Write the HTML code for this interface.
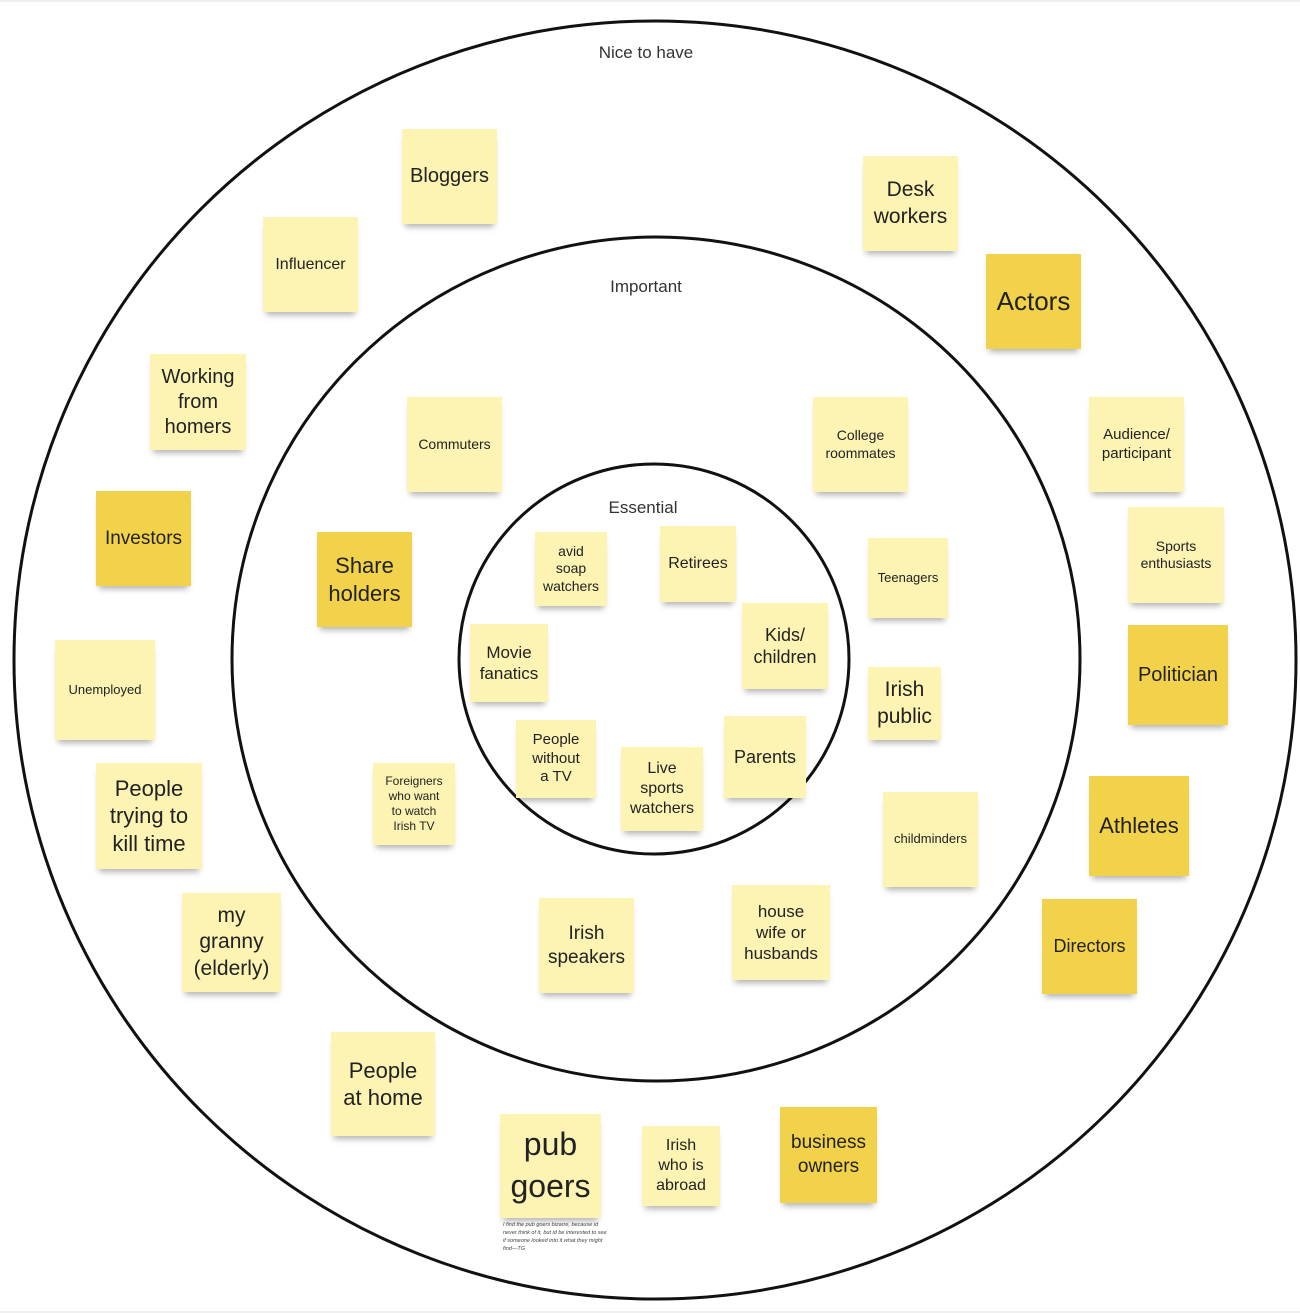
<!DOCTYPE html>
<html><head><meta charset="utf-8"><style>
body{margin:0;width:1300px;height:1314px;background:#fff;position:relative;overflow:hidden;font-family:"Liberation Sans",sans-serif}
.n{position:absolute;background:#fdf4b4;display:flex;align-items:center;justify-content:center;text-align:center;color:#222;box-shadow:0 6px 6px -3px rgba(0,0,0,.3);line-height:1.25}
.d{background:#f2d24a}
.l{position:absolute;font-size:17px;color:#333;transform:translateX(-50%)}
</style></head><body>
<svg width="1300" height="1314" style="position:absolute;left:0;top:0">
<line x1="0" y1="1" x2="1300" y2="1" stroke="#ddd"/>
<line x1="0" y1="1312" x2="1300" y2="1312" stroke="#ddd"/>
<ellipse cx="655" cy="660" rx="641" ry="639" fill="none" stroke="#111" stroke-width="3"/>
<ellipse cx="656" cy="659" rx="424" ry="422" fill="none" stroke="#111" stroke-width="3"/>
<ellipse cx="654" cy="659" rx="195" ry="195" fill="none" stroke="#111" stroke-width="3"/>
</svg>
<div class="l" style="left:646px;top:43px">Nice to have</div>
<div class="l" style="left:646px;top:277px">Important</div>
<div class="l" style="left:643px;top:498px">Essential</div>

<div class="n" style="left:402px;top:129px;width:95px;height:95px;font-size:20px">Bloggers</div>
<div class="n" style="left:863px;top:156px;width:95px;height:95px;font-size:21px">Desk<br>workers</div>
<div class="n" style="left:263px;top:217px;width:95px;height:95px;font-size:16px">Influencer</div>
<div class="n d" style="left:986px;top:254px;width:95px;height:95px;font-size:26px">Actors</div>
<div class="n" style="left:150px;top:354px;width:96px;height:96px;font-size:20px">Working<br>from<br>homers</div>
<div class="n" style="left:407px;top:397px;width:95px;height:95px;font-size:14px">Commuters</div>
<div class="n" style="left:813px;top:397px;width:95px;height:95px;font-size:14px">College<br>roommates</div>
<div class="n" style="left:1089px;top:397px;width:95px;height:95px;font-size:15px">Audience/<br>participant</div>
<div class="n d" style="left:96px;top:491px;width:95px;height:95px;font-size:19px">Investors</div>
<div class="n" style="left:1128px;top:507px;width:96px;height:96px;font-size:14px">Sports<br>enthusiasts</div>
<div class="n d" style="left:317px;top:532px;width:95px;height:95px;font-size:22px">Share<br>holders</div>
<div class="n" style="left:535px;top:532px;width:72px;height:74px;font-size:14px">avid<br>soap<br>watchers</div>
<div class="n" style="left:660px;top:526px;width:76px;height:76px;font-size:16px">Retirees</div>
<div class="n" style="left:868px;top:538px;width:80px;height:80px;font-size:13px">Teenagers</div>
<div class="n" style="left:742px;top:603px;width:86px;height:86px;font-size:18px">Kids/<br>children</div>
<div class="n d" style="left:1128px;top:625px;width:100px;height:100px;font-size:20px">Politician</div>
<div class="n" style="left:470px;top:624px;width:78px;height:78px;font-size:17px">Movie<br>fanatics</div>
<div class="n" style="left:55px;top:640px;width:100px;height:100px;font-size:13px">Unemployed</div>
<div class="n" style="left:868px;top:667px;width:73px;height:73px;font-size:21px">Irish<br>public</div>
<div class="n" style="left:516px;top:720px;width:80px;height:78px;font-size:15px">People<br>without<br>a TV</div>
<div class="n" style="left:724px;top:716px;width:82px;height:82px;font-size:18px">Parents</div>
<div class="n" style="left:621px;top:747px;width:82px;height:84px;font-size:16px">Live<br>sports<br>watchers</div>
<div class="n" style="left:96px;top:763px;width:106px;height:106px;font-size:22px">People<br>trying to<br>kill time</div>
<div class="n" style="left:373px;top:763px;width:82px;height:82px;font-size:12px">Foreigners<br>who want<br>to watch<br>Irish TV</div>
<div class="n d" style="left:1089px;top:776px;width:100px;height:100px;font-size:22px">Athletes</div>
<div class="n" style="left:883px;top:792px;width:95px;height:95px;font-size:13px">childminders</div>
<div class="n" style="left:182px;top:893px;width:99px;height:99px;font-size:21px">my<br>granny<br>(elderly)</div>
<div class="n" style="left:539px;top:898px;width:95px;height:95px;font-size:19px">Irish<br>speakers</div>
<div class="n" style="left:732px;top:885px;width:98px;height:95px;font-size:17px">house<br>wife or<br>husbands</div>
<div class="n d" style="left:1042px;top:899px;width:95px;height:95px;font-size:18px">Directors</div>
<div class="n" style="left:331px;top:1032px;width:104px;height:104px;font-size:22px">People<br>at home</div>
<div class="n" style="left:500px;top:1114px;width:101px;height:104px;font-size:32px;line-height:1.3">pub<br>goers</div>
<div class="n" style="left:642px;top:1126px;width:78px;height:80px;font-size:16px">Irish<br>who is<br>abroad</div>
<div class="n d" style="left:780px;top:1107px;width:97px;height:96px;font-size:19px">business<br>owners</div>
<div style="position:absolute;left:503px;top:1222px;width:106px;font-size:5.5px;font-style:italic;color:#444;line-height:1.45">I find the pub goers bizarre, because id never think of it, but id be interested to see if someone looked into it what they might find—TG</div>
</body></html>
